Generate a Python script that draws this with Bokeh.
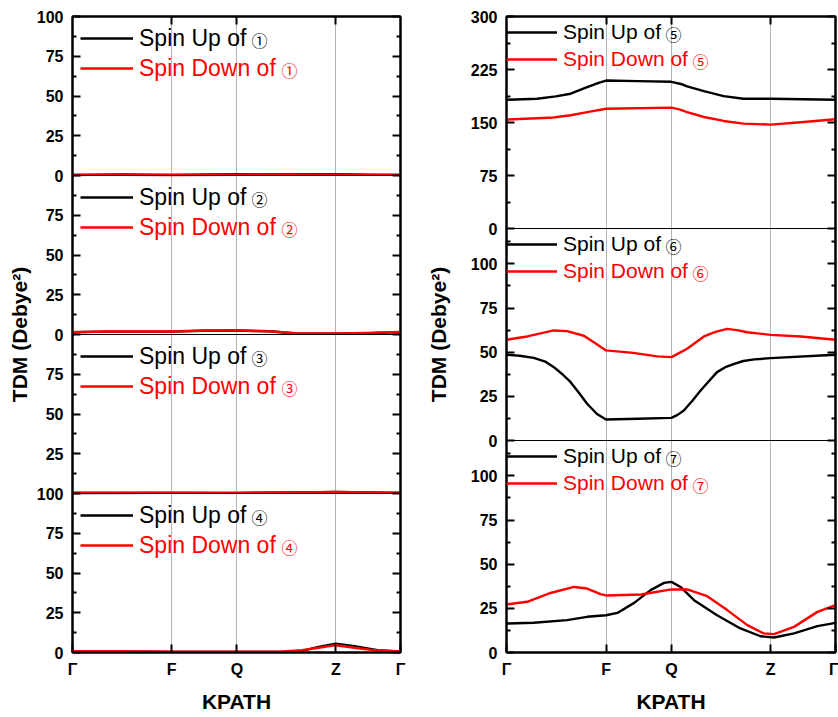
from bokeh.plotting import figure
from bokeh.models import Range1d, LinearAxis, FixedTicker, Span, Legend, LegendItem, Label
from bokeh.layouts import row
from bokeh.embed import file_html
from bokeh.resources import INLINE

# ---------------- data ----------------
KPATH_POS = [0.0, 0.3025, 0.5014, 0.803, 1.0]
KPATH_LABELS = ["Γ", "F", "Q", "Z", "Γ"]
Y_TITLE = "TDM (Debye²)"
X_TITLE = "KPATH"

# state 1
k1 = [0.0, 0.15, 0.3025, 0.5014, 0.65, 0.803, 0.9, 1.0]
up1 = [0.3, 0.7, 0.4, 0.8, 0.6, 0.8, 0.5, 0.4]
down1 = [0.4, 0.4, 0.3, 0.5, 0.4, 0.5, 0.4, 0.4]
# state 2
k2 = [0.0, 0.1, 0.3025, 0.4, 0.5014, 0.6, 0.68, 0.803, 0.9, 1.0]
up2 = [1.4, 1.8, 1.8, 2.4, 2.5, 2.0, 0.6, 0.5, 0.8, 1.5]
down2 = [1.5, 1.9, 1.9, 2.5, 2.6, 2.0, 0.8, 0.6, 1.0, 1.6]
# state 3
k3 = [0.0, 0.3025, 0.5014, 0.7, 0.803, 0.9, 1.0]
up3 = [0.3, 0.4, 0.4, 0.6, 0.9, 0.6, 0.4]
down3 = [0.5, 0.5, 0.4, 0.7, 1.0, 0.6, 0.5]
# state 4
k4 = [0.0, 0.15, 0.3025, 0.5014, 0.64, 0.7, 0.75, 0.803, 0.86, 0.93, 1.0]
up4 = [0.6, 0.6, 0.3, 0.3, 0.3, 1.0, 3.5, 5.6, 4.0, 1.5, 0.6]
down4 = [0.8, 0.8, 0.5, 0.5, 0.6, 1.5, 3.0, 4.6, 3.0, 1.2, 0.6]
# state 5
k5_up = [0.0, 0.05, 0.093, 0.15, 0.195, 0.245, 0.28, 0.3025, 0.4, 0.5014, 0.53, 0.549,
         0.6, 0.66, 0.72, 0.803, 1.0]
up5 = [182.2, 182.8, 183.6, 187.0, 190.7, 200.0, 206.0, 209.4, 208.5, 207.6, 204.5, 201.0,
       194.4, 187.4, 183.6, 183.6, 182.2]
k5_dn = [0.0, 0.143, 0.195, 0.25, 0.3025, 0.5014, 0.525, 0.549, 0.6, 0.66, 0.72, 0.803, 0.904, 1.0]
down5 = [154.1, 157.0, 160.2, 165.0, 169.5, 171.0, 168.5, 164.8, 157.8, 152.2, 148.4, 147.0, 150.8, 154.6]
# state 6
k6_up = [0.0, 0.04, 0.083, 0.12, 0.144, 0.17, 0.195, 0.22, 0.245, 0.275, 0.3025, 0.4, 0.5014,
         0.52, 0.539, 0.565, 0.59, 0.615, 0.64, 0.665, 0.692, 0.72, 0.753, 0.803, 1.0]
up6 = [48.5, 48.0, 46.8, 44.5, 41.5, 37.5, 33.0, 27.0, 20.8, 15.0, 11.9, 12.3, 12.8,
       14.5, 17.0, 22.5, 28.3, 33.5, 38.7, 41.5, 43.4, 45.0, 45.9, 46.6, 48.5]
k6_dn = [0.0, 0.063, 0.1, 0.144, 0.184, 0.235, 0.27, 0.3025, 0.385, 0.458, 0.5014, 0.52,
         0.549, 0.575, 0.6, 0.635, 0.671, 0.7, 0.732, 0.803, 0.895, 1.0]
down6 = [57.0, 58.9, 60.5, 62.3, 61.9, 59.3, 55.0, 51.0, 49.6, 47.6, 47.2, 49.0,
         51.9, 55.5, 58.9, 61.5, 63.2, 62.5, 61.3, 59.8, 58.9, 57.0]
# state 7
k7_up = [0.0, 0.083, 0.184, 0.245, 0.3025, 0.337, 0.388, 0.438, 0.479, 0.5014, 0.529, 0.57,
         0.64, 0.711, 0.772, 0.813, 0.874, 0.945, 1.0]
up7 = [16.4, 16.8, 18.3, 20.2, 21.1, 22.4, 28.1, 35.3, 39.4, 40.0, 37.1, 29.6,
       21.1, 13.6, 9.2, 8.5, 10.8, 14.9, 16.8]
k7_dn = [0.0, 0.063, 0.134, 0.205, 0.245, 0.286, 0.3025, 0.409, 0.5014, 0.549, 0.61,
         0.671, 0.732, 0.782, 0.813, 0.874, 0.945, 1.0]
down7 = [27.2, 28.7, 33.7, 37.1, 36.2, 33.0, 32.3, 32.8, 35.7, 35.7, 31.9,
         24.0, 15.5, 10.8, 10.4, 14.5, 23.0, 26.8]

LEFT_PANELS = [
    dict(tag="①", ku=k1, up=up1, kd=k1, down=down1, top=100, ticks=[0, 25, 50, 75, 100]),
    dict(tag="②", ku=k2, up=up2, kd=k2, down=down2, top=100, ticks=[0, 25, 50, 75]),
    dict(tag="③", ku=k3, up=up3, kd=k3, down=down3, top=100, ticks=[25, 50, 75]),
    dict(tag="④", ku=k4, up=up4, kd=k4, down=down4, top=100, ticks=[0, 25, 50, 75, 100]),
]
RIGHT_PANELS = [
    dict(tag="⑤", ku=k5_up, up=up5, kd=k5_dn, down=down5, top=300, ticks=[0, 75, 150, 225, 300], step=75),
    dict(tag="⑥", ku=k6_up, up=up6, kd=k6_dn, down=down6, top=120, ticks=[0, 25, 50, 75, 100], step=25),
    dict(tag="⑦", ku=k7_up, up=up7, kd=k7_dn, down=down7, top=120, ticks=[0, 25, 50, 75, 100], step=25),
]
for pnl in LEFT_PANELS:
    pnl["step"] = 25

# ---------------- styling ----------------
FONT = "Liberation Sans"
STRIP = 1200
FRAME_H = 636
RED = "#ff0000"


def make_column(panels, frame_w, b_left, b_right, title_standoff, leg):
    n = len(panels)
    p = figure(frame_width=frame_w, frame_height=FRAME_H,
               min_border_left=b_left, min_border_right=b_right,
               min_border_top=16, min_border_bottom=65,
               x_range=Range1d(0, 1), y_range=Range1d(0, n * STRIP),
               output_backend="svg", toolbar_location=None)
    p.outline_line_color = "black"
    p.outline_line_width = 2
    p.background_fill_color = "white"
    p.border_fill_color = "white"

    # grid
    p.xgrid.ticker = FixedTicker(ticks=KPATH_POS[1:4])
    p.xgrid.grid_line_color = "#b4b4b4"
    p.xgrid.grid_line_width = 1
    p.ygrid.visible = False

    # y ticks (stacked panels)
    majors, minors, overrides = [], [], {}
    for i, pnl in enumerate(panels):
        b = n - 1 - i
        scale = STRIP / pnl["top"]
        for v in pnl["ticks"]:
            pos = b * STRIP + v * scale
            majors.append(pos)
            overrides[pos] = str(v)
        v = pnl["step"] / 2
        while v < pnl["top"]:
            minors.append(b * STRIP + v * scale)
            v += pnl["step"]
    yticker = FixedTicker(ticks=sorted(majors), minor_ticks=sorted(minors))

    yax = p.left[0]
    yax.ticker = yticker
    yax.major_label_overrides = overrides
    xax = p.below[0]
    xax.ticker = FixedTicker(ticks=KPATH_POS)
    xax.major_label_overrides = {pos: lab for pos, lab in zip(KPATH_POS, KPATH_LABELS)}

    for ax in (yax, xax):
        ax.major_tick_in = 8
        ax.major_tick_out = 0
        ax.minor_tick_in = 4
        ax.minor_tick_out = 0
        ax.axis_line_width = 2
        ax.major_tick_line_width = 2
        ax.minor_tick_line_width = 2
        ax.major_label_text_font = FONT
        ax.major_label_text_font_style = "bold"
        ax.major_label_text_font_size = "16px"
        ax.major_label_text_color = "black"
        ax.axis_label_text_font = FONT
        ax.axis_label_text_font_style = "bold"
        ax.axis_label_text_font_size = "21px"
        ax.axis_label_text_color = "black"
    yax.major_label_standoff = 9
    yax.axis_label = Y_TITLE
    yax.axis_label_standoff = title_standoff
    xax.major_label_standoff = 8
    xax.axis_label = X_TITLE
    xax.axis_label_standoff = 9

    # mirrored ticks without labels
    yr = LinearAxis(ticker=yticker, major_label_overrides={t: "" for t in majors})
    xt = LinearAxis(ticker=FixedTicker(ticks=KPATH_POS[1:4]),
                    major_label_overrides={t: "" for t in KPATH_POS[1:4]})
    for ax in (yr, xt):
        ax.major_tick_in = 8
        ax.major_tick_out = 0
        ax.minor_tick_in = 4
        ax.minor_tick_out = 0
        ax.axis_line_width = 2
        ax.major_tick_line_width = 2
        ax.minor_tick_line_width = 2
        ax.major_label_standoff = 0
    p.add_layout(yr, "right")
    p.add_layout(xt, "above")

    strip_px = FRAME_H / n
    for i, pnl in enumerate(panels):
        b = n - 1 - i
        top = pnl["top"]
        rname = f"p{i}"
        p.extra_y_ranges[rname] = Range1d(start=-b * top, end=(n - b) * top)
        if b > 0:
            p.add_layout(Span(location=b * STRIP, dimension="width",
                              line_color="black", line_width=1))
        r_up = p.line(pnl["ku"], pnl["up"], line_color="black", line_width=2.4,
                      line_join="round", y_range_name=rname)
        r_dn = p.line(pnl["kd"], pnl["down"], line_color=RED, line_width=2.4,
                      line_join="round", y_range_name=rname)

        top_px = FRAME_H - i * strip_px
        for r, lab, col, off, cx in ((r_up, "Spin Up of", "black", leg["up_off"], leg["cx_up"]),
                                     (r_dn, "Spin Down of", RED, leg["dn_off"], leg["cx_dn"])):
            center = top_px - off
            lg = Legend(items=[LegendItem(label=lab, renderers=[r])],
                        location=(leg["x"], center - 15),
                        glyph_width=leg["gw"], glyph_height=30, label_height=30,
                        label_standoff=6, padding=0, margin=0, spacing=0,
                        border_line_color=None, background_fill_alpha=0,
                        label_text_font=FONT, label_text_font_size=leg["fs"],
                        label_text_color=col)
            p.add_layout(lg)
            p.add_layout(Label(x=cx, y=center - 1, x_units="screen", y_units="screen",
                               text=pnl["tag"], text_font="Noto Sans CJK SC",
                               text_font_size="16px", text_baseline="middle",
                               text_color=col))
    return p


left = make_column(LEFT_PANELS, 328, 72, 20, 3,
                   dict(x=8, gw=53, fs="23px", up_off=22.3, dn_off=52.3, cx_up=179, cx_dn=209))
right = make_column(RIGHT_PANELS, 329, 86, 3, 18,
                    dict(x=0, gw=51, fs="21px", up_off=16, dn_off=43, cx_up=159, cx_dn=186))

layout = row(left, right)
open("out.html", "w").write(file_html(layout, INLINE))
